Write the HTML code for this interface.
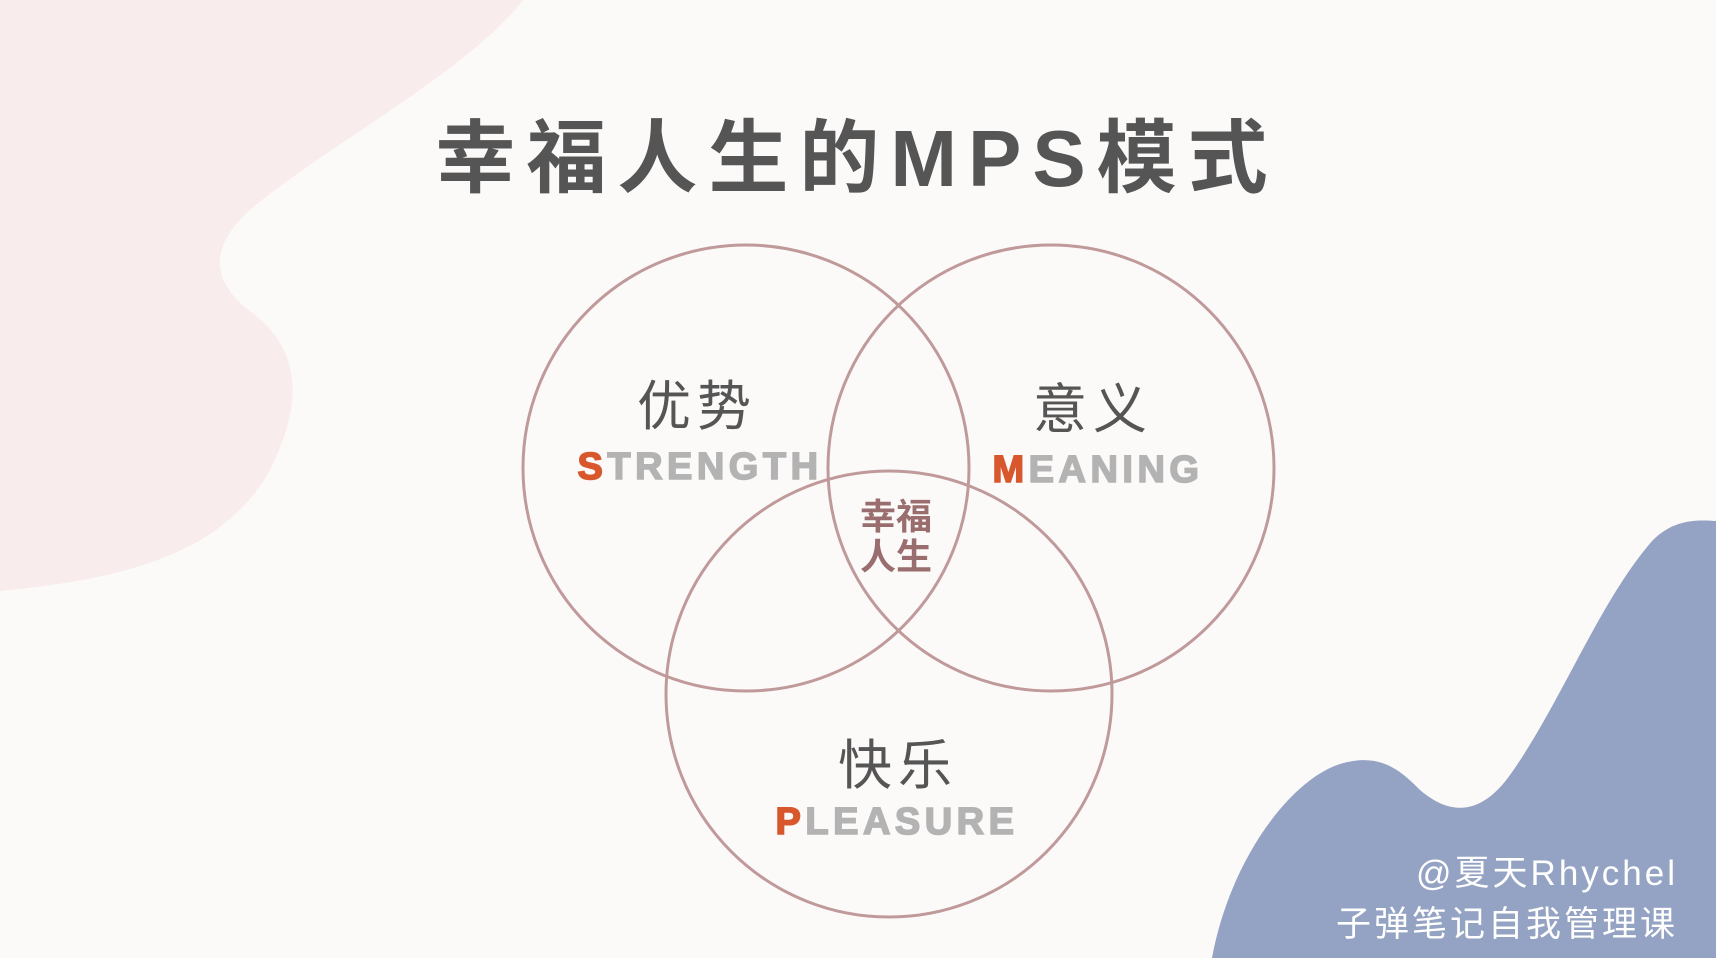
<!DOCTYPE html>
<html><head><meta charset="utf-8"><style>
body{margin:0;width:1716px;height:958px;overflow:hidden;background:#fcfaf9;font-family:"Liberation Sans","Noto Sans CJK SC",sans-serif;}
.t{position:absolute;white-space:nowrap;transform:translate(-50%,-50%);line-height:1;}
.en{font-weight:900;letter-spacing:4.5px;color:#b3b3b3;font-size:38px;font-family:"Liberation Sans",sans-serif;-webkit-text-stroke:1.6px #b3b3b3;}
.en b{color:#d9572c;-webkit-text-stroke:1.6px #d9572c;}
.cn{font-size:54px;color:#555;letter-spacing:6px;}
</style></head><body>
<svg width="1716" height="958" style="position:absolute;left:0;top:0">
<path d="M0 0 L523 0 C470 70 320 150 250 210 C200 255 220 290 255 315 C305 355 300 410 270 470 C220 560 110 580 0 591 Z" fill="#f9ecec"/>
<path d="M1212 958 C1230 860 1290 780 1340 764 C1380 752 1400 770 1420 790 C1455 820 1485 810 1510 775 C1560 705 1600 600 1653 540 C1675 518 1700 520 1716 521 L1716 958 Z" fill="#94a3c3"/>
<g fill="none" stroke="#c09a9b" stroke-width="3">
<circle cx="746" cy="468" r="223"/><circle cx="1051" cy="468" r="223"/><circle cx="889" cy="694" r="223"/>
</g></svg>
<div class="t" style="left:857px;top:159px;font-size:80px;font-weight:bold;color:#555;letter-spacing:11px;">幸福人生的MPS模式</div>
<div class="t cn" style="left:697px;top:407px">优势</div>
<div class="t en" style="left:700px;top:467px"><b>S</b>TRENGTH</div>
<div class="t cn" style="left:1093px;top:410px">意义</div>
<div class="t en" style="left:1098px;top:470px"><b>M</b>EANING</div>
<div class="t cn" style="left:898px;top:766px">快乐</div>
<div class="t en" style="left:897px;top:822px"><b>P</b>LEASURE</div>
<div class="t" style="left:896px;top:537px;font-size:36px;font-weight:bold;color:#9a6e6e;line-height:40px;text-align:center;">幸福<br>人生</div>
<div style="position:absolute;right:38px;top:848px;color:#fff;font-size:35px;letter-spacing:3px;text-align:right;line-height:51px;">@夏天Rhychel<br>子弹笔记自我管理课</div>
</body></html>
